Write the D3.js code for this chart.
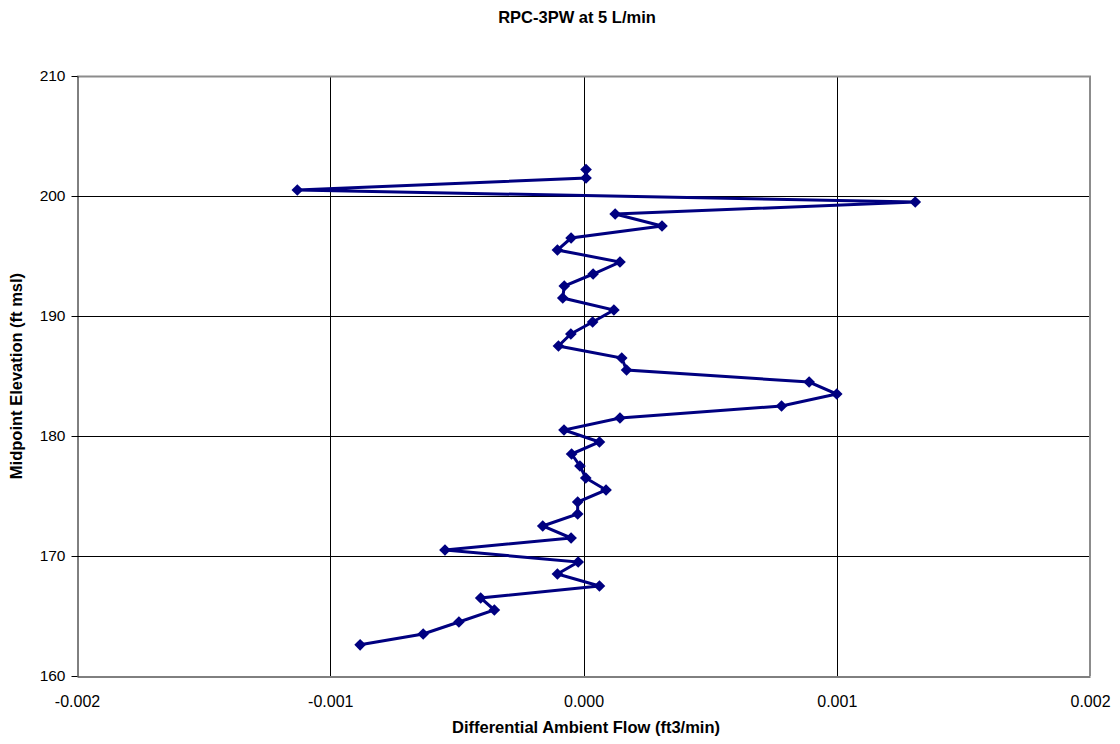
<!DOCTYPE html>
<html>
<head>
<meta charset="utf-8">
<script src="https://cdn.jsdelivr.net/npm/d3@7"></script>
<style>
  body { margin: 0; background: #fff; }
  svg text { font-family: Arial, "Liberation Sans", sans-serif; }
</style>
</head>
<body>
<svg id="drawing_region"></svg>
<script>
// differential ambient flow (ft3/min), top of hole to bottom
const flow = [
  0.00001, 0.00001, -0.00113, 0.00131, 0.000125, 0.00031, -0.000049, -0.000103,
  0.000144, 0.000038, -0.000076, -0.000082, 0.00012, 0.000036, -0.00005, -0.000099,
  0.000151, 0.00017, 0.000891, 0.001, 0.000782, 0.000144, -0.000077, 0.000063,
  -0.000047, -0.000014, 0.000009, 0.000089, -0.000023, -0.000023, -0.000161, -0.000049,
  -0.000547, -0.000021, -0.000103, 0.000063, -0.000406, -0.000352, -0.000492, -0.000633,
  -0.000882
];
// midpoint elevation (ft msl)
const elevation = [
  202.2, 201.5, 200.5, 199.5, 198.5, 197.5, 196.5, 195.5,
  194.5, 193.5, 192.5, 191.5, 190.5, 189.5, 188.5, 187.5,
  186.5, 185.5, 184.5, 183.5, 182.5, 181.5, 180.5, 179.5,
  178.5, 177.5, 176.5, 175.5, 174.5, 173.5, 172.5, 171.5,
  170.5, 169.5, 168.5, 167.5, 166.5, 165.5, 164.5, 163.5,
  162.6
];
const xTicks = [-0.002, -0.001, 0, 0.001, 0.002];
const xTickLabels = ['-0.002', '-0.001', '0.000', '0.001', '0.002'];
const yTicks = [160, 170, 180, 190, 200, 210];

const title = 'RPC-3PW at 5 L/min';
const xTitle = 'Differential Ambient Flow (ft3/min)';
const yTitle = 'Midpoint Elevation (ft msl)';

const width = 1120, height = 744;
const margin = {top: 76, right: 30, bottom: 68, left: 77};
const innerW = width - margin.left - margin.right;
const innerH = height - margin.top - margin.bottom;

const svg = d3.select('#drawing_region')
  .attr('width', width)
  .attr('height', height);

const chart = svg.append('g')
  .attr('transform', `translate(${margin.left}, ${margin.top})`);

const xscale = d3.scaleLinear().domain([-0.002, 0.002]).range([0, innerW]);
const yscale = d3.scaleLinear().domain([160, 210]).range([innerH, 0]);

// gridlines
chart.append('g').selectAll('line')
  .data(yTicks.slice(1, -1))
  .join('line')
  .attr('x1', 0).attr('x2', innerW)
  .attr('y1', d => Math.round(yscale(d)) + 0.5)
  .attr('y2', d => Math.round(yscale(d)) + 0.5)
  .attr('stroke', '#000').attr('stroke-width', 1);

chart.append('g').selectAll('line')
  .data(xTicks.slice(1, -1))
  .join('line')
  .attr('y1', 0).attr('y2', innerH)
  .attr('x1', d => Math.round(xscale(d)) + 0.5)
  .attr('x2', d => Math.round(xscale(d)) + 0.5)
  .attr('stroke', '#000').attr('stroke-width', 1);

// plot border top / right (grey)
chart.append('path')
  .attr('d', `M0,0.5H${innerW}V${innerH}`)
  .attr('fill', 'none')
  .attr('stroke', '#8c8c8c')
  .attr('stroke-width', 2);

// axes
const yaxis = d3.axisLeft(yscale).tickValues(yTicks).tickSize(6).tickSizeOuter(0).tickPadding(6);
const yg = chart.append('g').attr('transform', 'translate(0.5,0)').call(yaxis);
yg.select('.domain').attr('stroke', '#000');
yg.selectAll('.tick line').attr('stroke', '#000');
yg.selectAll('.tick text').attr('font-size', 15.5).attr('fill', '#000');

const xaxis = d3.axisBottom(xscale).tickValues(xTicks)
  .tickFormat((d, i) => xTickLabels[i]).tickSize(0).tickSizeOuter(0).tickPadding(19);
const xg = chart.append('g').attr('transform', `translate(0, ${innerH + 0.5})`).call(xaxis);
xg.select('.domain').attr('stroke', '#000');
xg.selectAll('.tick text').attr('font-size', 16).attr('fill', '#000');

// series
const pts = flow.map((f, i) => ({x: f, y: elevation[i]}));
const line = d3.line().x(d => xscale(d.x)).y(d => yscale(d.y));
chart.append('path')
  .attr('d', line(pts))
  .attr('fill', 'none')
  .attr('stroke', '#000080')
  .attr('stroke-width', 3)
  .attr('stroke-linejoin', 'miter');

chart.append('g').selectAll('path')
  .data(pts)
  .join('path')
  .attr('d', d3.symbol(d3.symbolSquare, 68)())
  .attr('transform', d => `translate(${xscale(d.x)}, ${yscale(d.y)}) rotate(45)`)
  .attr('fill', '#000080');

// titles
svg.append('text')
  .attr('x', 577).attr('y', 23)
  .attr('text-anchor', 'middle')
  .attr('font-size', 16.5).attr('font-weight', 'bold')
  .text(title);

svg.append('text')
  .attr('x', 586).attr('y', 733)
  .attr('text-anchor', 'middle')
  .attr('font-size', 16.5).attr('font-weight', 'bold')
  .text(xTitle);

svg.append('text')
  .attr('transform', 'translate(22, 376) rotate(-90)')
  .attr('text-anchor', 'middle')
  .attr('font-size', 16.5).attr('font-weight', 'bold')
  .text(yTitle);
</script>
</body>
</html>
